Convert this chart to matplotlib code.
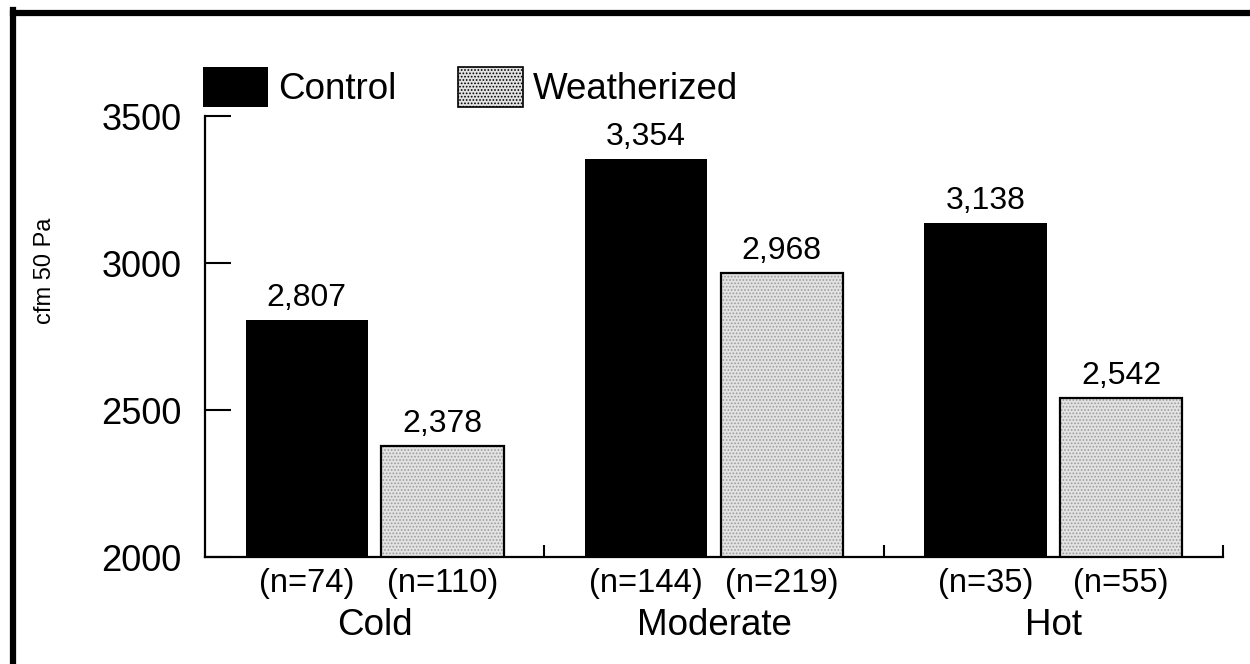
import matplotlib.pyplot as plt
import matplotlib.patches as mpatches
from matplotlib.lines import Line2D

plt.rcParams['font.family'] = ['Liberation Sans', 'DejaVu Sans']
plt.rcParams['hatch.linewidth'] = 0.8

# blower door results by climate region
regions = ['Cold', 'Moderate', 'Hot']
control = [2807, 3354, 3138]
weatherized = [2378, 2968, 2542]
n_control = [74, 144, 35]
n_weatherized = [110, 219, 55]
yticks = [2000, 2500, 3000, 3500]

fig = plt.figure(figsize=(12.5, 6.64), dpi=100)
ax = fig.add_axes([0.164, 0.161, 0.8144, 0.664])

x = list(range(len(regions)))
xc = [i - 0.2 for i in x]
xw = [i + 0.2 for i in x]
w = 0.36

ax.bar(xc, control, width=w, color='black', edgecolor='black', linewidth=0)
ax.bar(xw, weatherized, width=w, color='#e2e2e2', edgecolor='#9c9c9c',
       hatch='.....', linewidth=0)
ax.bar(xw, weatherized, width=w, fill=False, edgecolor='black', linewidth=1.6)

for xi, v in zip(xc + xw, control + weatherized):
    ax.annotate(f'{v:,}', (xi, v), xytext=(0, 5), textcoords='offset points',
                ha='center', va='bottom', fontsize=23)

ax.set_xlim(-0.5, 2.5)
ax.set_ylim(2000, 3500)
ax.set_yticks(yticks)
ax.tick_params(axis='y', direction='in', length=19, width=1.5, pad=17,
               labelsize=26)
ax.set_xticks([0.5, 1.5, 2.5])
ax.tick_params(axis='x', direction='in', length=9, width=1.5, labelbottom=False)
ax.set_xticks(xc + xw, minor=True)
ax.set_xticklabels([f'(n={n})' for n in n_control + n_weatherized], minor=True)
ax.tick_params(axis='x', which='minor', length=0, pad=8, labelsize=23.5)

for xi, name in zip(x, regions):
    ax.annotate(name, (xi, 0), xycoords=ax.get_xaxis_transform(),
                xytext=(0, -37), textcoords='offset points',
                ha='center', va='top', fontsize=26.5)

ax.set_ylabel('cfm 50 Pa', fontsize=17)
ax.yaxis.set_label_coords(-0.146, 0.65)

for side in ['top', 'right']:
    ax.spines[side].set_visible(False)
for side in ['left', 'bottom']:
    ax.spines[side].set_linewidth(1.6)

handles = [
    mpatches.Patch(facecolor='black', edgecolor='black', linewidth=0),
    mpatches.Patch(facecolor='#e2e2e2', edgecolor='black', hatch='.....',
                   linewidth=1.2),
]
fig.legend(handles, ['Control', 'Weatherized'], loc='center left',
           bbox_to_anchor=(203 / 1250, 1 - 87 / 664), ncol=2, frameon=False,
           fontsize=26.5, handlelength=1.76, handleheight=1.28,
           handletextpad=0.27, columnspacing=1.68, borderpad=0,
           borderaxespad=0)

# page frame along the top and left edges
fig.add_artist(Line2D([13 / 1250, 1.0], [1 - 13 / 664, 1 - 13 / 664],
                      color='black', linewidth=4.5, transform=fig.transFigure))
fig.add_artist(Line2D([13 / 1250, 13 / 1250], [0.0, 1 - 10 / 664],
                      color='black', linewidth=4.5, transform=fig.transFigure))

fig.savefig('out.png', dpi=100)
